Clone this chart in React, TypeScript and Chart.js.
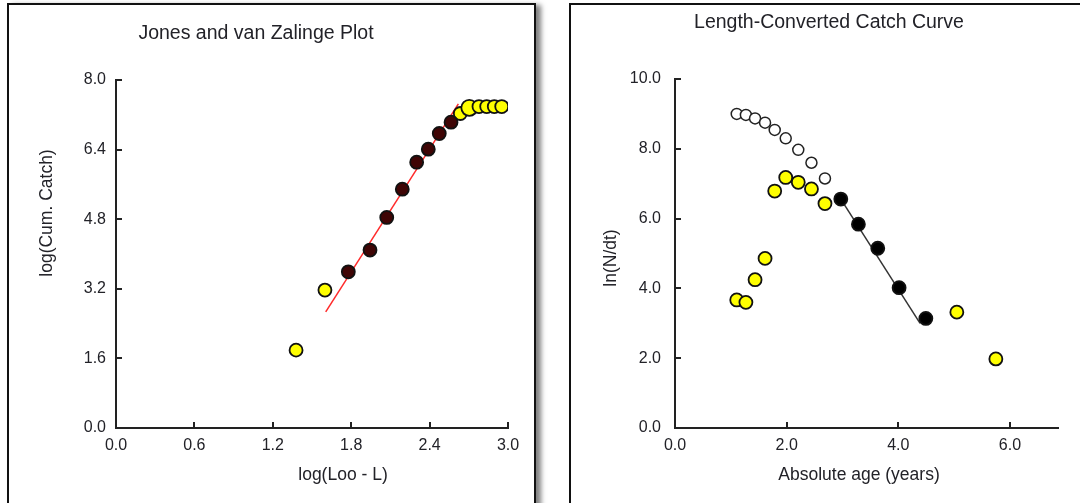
import React, { useEffect, useRef } from "react";
import { Chart, registerables } from "chart.js";

Chart.register(...registerables);

// ---------- Left panel: Jones and van Zalinge Plot ----------
const jvzLowX = [1.378, 1.599];
const jvzLowY = [1.79, 3.17];
const jvzFitX = [1.778, 1.944, 2.072, 2.191, 2.301, 2.39, 2.474, 2.564];
const jvzFitY = [3.59, 4.09, 4.84, 5.49, 6.11, 6.41, 6.77, 7.03];
const jvzHighX = [2.635, 2.704, 2.778, 2.837, 2.895, 2.952];
const jvzHighY = [7.23, 7.36, 7.39, 7.39, 7.39, 7.39];
const jvzLineX = [1.605, 2.62];
const jvzLineY = [2.67, 7.45];
const jvzXTicks = [0, 0.6, 1.2, 1.8, 2.4, 3.0];
const jvzYTicks = [0, 1.6, 3.2, 4.8, 6.4, 8.0];

// ---------- Right panel: Length-Converted Catch Curve ----------
const ccEarlyAge = [1.106, 1.27, 1.434, 1.613, 1.786, 1.983, 2.208, 2.444, 2.686];
const ccEarlyLnN = [3.67, 3.6, 4.25, 4.86, 6.79, 7.18, 7.04, 6.85, 6.43];
const ccCorrectedLnN = [9.0, 8.97, 8.87, 8.75, 8.54, 8.3, 7.97, 7.6, 7.15];
const ccFitAge = [2.97, 3.285, 3.632, 4.014, 4.493];
const ccFitLnN = [6.56, 5.84, 5.15, 4.02, 3.14];
const ccLateAge = [5.048, 5.747];
const ccLateLnN = [3.32, 1.98];
const ccLineAge = [2.97, 4.39];
const ccLineLnN = [6.56, 3.0];
const ccXTicks = [0, 2, 4, 6];
const ccYTicks = [0, 2, 4, 6, 8, 10];

const FONT = '"Liberation Sans", Arial, sans-serif';
const TEXT = "#222228";

const pts = (xs: number[], ys: number[]) => xs.map((x, i) => ({ x, y: ys[i] }));

function textPlugin(items: any[]) {
  return {
    id: "panelText",
    afterDraw(chart: any) {
      const ctx = chart.ctx;
      for (const t of items) {
        ctx.save();
        ctx.font = `${t.size}px ${FONT}`;
        ctx.fillStyle = TEXT;
        ctx.textAlign = "center";
        ctx.textBaseline = "middle";
        ctx.translate(t.x, t.y);
        if (t.rotate) ctx.rotate(-Math.PI / 2);
        ctx.fillText(t.text, 0, 0);
        ctx.restore();
      }
    },
  };
}

function inwardTicks(len: number) {
  return {
    id: "inTicks",
    afterDraw(chart: any) {
      const { ctx, chartArea } = chart;
      const xs = chart.scales.x;
      const ys = chart.scales.y;
      ctx.save();
      ctx.strokeStyle = "#222";
      ctx.lineWidth = 2;
      ctx.beginPath();
      xs.ticks.forEach((t: any) => {
        if (t.value === xs.min) return;
        const px = Math.round(xs.getPixelForValue(t.value));
        ctx.moveTo(px, chartArea.bottom);
        ctx.lineTo(px, chartArea.bottom - len);
      });
      ys.ticks.forEach((t: any) => {
        if (t.value === ys.min) return;
        const py = Math.round(ys.getPixelForValue(t.value));
        ctx.moveTo(chartArea.left, py);
        ctx.lineTo(chartArea.left + len, py);
      });
      ctx.stroke();
      ctx.restore();
    },
  };
}

function axis(min: number, max: number, tickValues: number[], pad: number, size: number, isY: boolean) {
  return {
    type: "linear",
    min,
    max,
    grid: { display: false, drawTicks: false },
    border: { display: true, color: "#222", width: 2 },
    afterBuildTicks: (scale: any) => {
      scale.ticks = tickValues.map((v) => ({ value: v }));
    },
    afterFit: (scale: any) => {
      if (isY) scale.width = size;
      else scale.height = size;
    },
    ticks: {
      autoSkip: false,
      maxRotation: 0,
      padding: pad,
      color: TEXT,
      font: { family: FONT, size: 16 },
      callback: (v: any) => Number(v).toFixed(1),
    },
  };
}

function leftConfig(): any {
  return {
    type: "scatter",
    data: {
      datasets: [
        {
          data: pts(jvzFitX, jvzFitY),
          pointRadius: 6.5,
          pointBorderWidth: 1.8,
          pointBorderColor: "#111",
          pointBackgroundColor: "#3f0505",
        },
        {
          data: pts(jvzLowX, jvzLowY),
          pointRadius: 6.5,
          pointBorderWidth: 1.8,
          pointBorderColor: "#111",
          pointBackgroundColor: "#ffff00",
        },
        {
          data: pts(jvzHighX, jvzHighY),
          pointRadius: [6.5, 8, 6.5, 6.5, 6.5, 6.5],
          pointBorderWidth: 1.8,
          pointBorderColor: "#111",
          pointBackgroundColor: "#ffff00",
        },
        {
          data: pts(jvzLineX, jvzLineY),
          showLine: true,
          pointRadius: 0,
          borderColor: "#ff2a2a",
          borderWidth: 1.5,
        },
      ],
    },
    options: {
      responsive: false,
      animation: false,
      devicePixelRatio: 1,
      layout: { padding: { left: 20, right: 26, top: 75, bottom: 5 } },
      plugins: { legend: { display: false }, tooltip: { enabled: false }, title: { display: false } },
      scales: {
        x: axis(0, 3, jvzXTicks, 8, 70, false),
        y: axis(0, 8, jvzYTicks, 10, 87, true),
      },
    },
    plugins: [
      inwardTicks(6),
      textPlugin([
        { text: "Jones and van Zalinge Plot", x: 247, y: 29, size: 19.5 },
        { text: "log(Loo - L)", x: 334, y: 470, size: 17.5 },
        { text: "log(Cum. Catch)", x: 38, y: 208, size: 17.5, rotate: true },
      ]),
    ],
  };
}

function rightConfig(): any {
  return {
    type: "scatter",
    data: {
      datasets: [
        {
          data: pts(ccFitAge, ccFitLnN),
          pointRadius: 6.5,
          pointBorderWidth: 1.8,
          pointBorderColor: "#111",
          pointBackgroundColor: "#000",
        },
        {
          data: pts(ccEarlyAge, ccCorrectedLnN),
          pointRadius: 5.5,
          pointBorderWidth: 1.5,
          pointBorderColor: "#222",
          pointBackgroundColor: "#fff",
        },
        {
          data: pts(ccEarlyAge, ccEarlyLnN),
          pointRadius: 6.5,
          pointBorderWidth: 1.8,
          pointBorderColor: "#111",
          pointBackgroundColor: "#ffff00",
        },
        {
          data: pts(ccLateAge, ccLateLnN),
          pointRadius: 6.5,
          pointBorderWidth: 1.8,
          pointBorderColor: "#111",
          pointBackgroundColor: "#ffff00",
        },
        {
          data: pts(ccLineAge, ccLineLnN),
          showLine: true,
          pointRadius: 0,
          borderColor: "#333",
          borderWidth: 1.5,
        },
      ],
    },
    options: {
      responsive: false,
      animation: false,
      devicePixelRatio: 1,
      layout: { padding: { left: 20, right: 22, top: 74, bottom: 5 } },
      plugins: { legend: { display: false }, tooltip: { enabled: false }, title: { display: false } },
      scales: {
        x: axis(0, 6.86, ccXTicks, 8, 70, false),
        y: axis(0, 10, ccYTicks, 14, 84, true),
      },
    },
    plugins: [
      inwardTicks(6),
      textPlugin([
        { text: "Length-Converted Catch Curve", x: 258, y: 18, size: 19.5 },
        { text: "Absolute age (years)", x: 288, y: 470, size: 17.5 },
        { text: "ln(N/dt)", x: 40, y: 253, size: 17.5, rotate: true },
      ]),
    ],
  };
}

function ChartCanvas(props: { make: () => any; left: number; top: number; width: number; height: number }) {
  const ref = useRef<HTMLCanvasElement | null>(null);
  useEffect(() => {
    const c = new Chart(ref.current as HTMLCanvasElement, props.make());
    return () => c.destroy();
  }, []);
  return (
    <canvas
      ref={ref}
      width={props.width}
      height={props.height}
      style={{
        position: "absolute",
        left: props.left,
        top: props.top,
        width: props.width,
        height: props.height,
        display: "block",
      }}
    />
  );
}

export default function App() {
  return (
    <div
      style={{
        position: "fixed",
        left: 0,
        top: 0,
        width: 1080,
        height: 503,
        overflow: "hidden",
        background: "#fff",
      }}
    >
      <div
        style={{
          position: "absolute",
          left: 7,
          top: 3,
          width: 525,
          height: 560,
          border: "2px solid #111",
          background: "#fff",
          boxShadow: "5px 2px 5px rgba(0,0,0,0.5)",
        }}
      />
      <div
        style={{
          position: "absolute",
          left: 569,
          top: 3,
          width: 600,
          height: 560,
          border: "2px solid #111",
          background: "#fff",
        }}
      />
      <ChartCanvas make={leftConfig} left={9} top={5} width={525} height={498} />
      <ChartCanvas make={rightConfig} left={571} top={5} width={509} height={498} />
    </div>
  );
}
